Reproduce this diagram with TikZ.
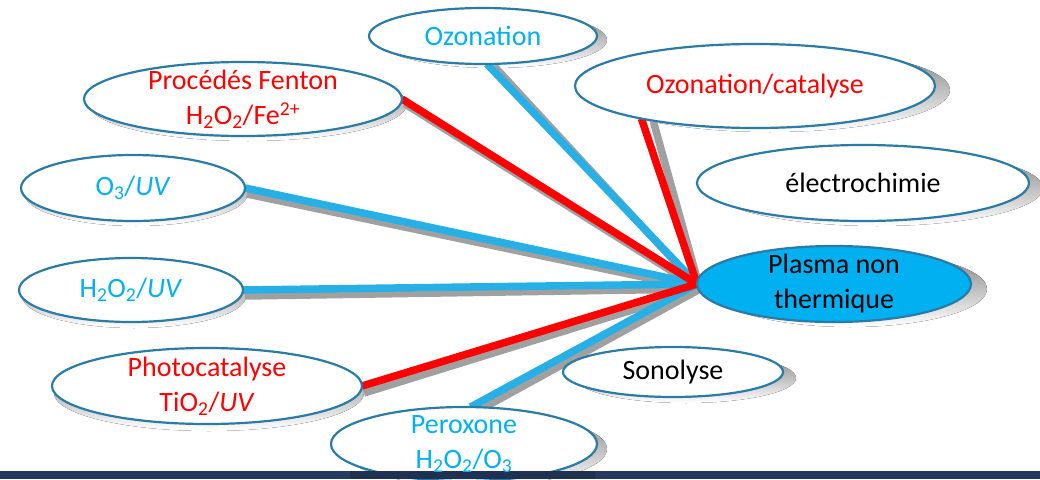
\documentclass[tikz,border=0pt]{standalone}
\usepackage{fontspec}
\setmainfont{Carlito}
\usetikzlibrary{shapes.geometric}

\definecolor{rimblue}{HTML}{2A7BA6}
\definecolor{lineblue}{HTML}{27B0E5}
\definecolor{textblue}{HTML}{00B0F0}
\definecolor{hubfill}{HTML}{00B0F0}
\definecolor{shade}{HTML}{A0A0A0}
\definecolor{barnavy}{HTML}{243A5E}
\definecolor{textred}{HTML}{FF0000}

\pgfdeclarelayer{shadows}
\pgfdeclarelayer{links}
\pgfdeclarelayer{labels}
\pgfsetlayers{shadows,links,main,labels}

\tikzset{
  bubble/.style={ellipse, draw=rimblue, line width=2.2pt, fill=white,
    inner sep=0pt, outer sep=0pt},
  btext/.style={inner sep=0pt, align=center, font=\fontsize{28}{35}\selectfont},
  link/.style={line width=7.5pt},
  linkshade/.style={line width=7.5pt, draw=shade},
}

% #1 name, #2 #3 centre, #4 #5 radii, #6 shadow shift, #7 extra style,
% #8 text colour, #9 text
\newcommand\bubble[9]{%
  \node[bubble, minimum width=2*#4pt, minimum height=2*#5pt, #7] (#1) at (#2,#3) {};
  \begin{pgfonlayer}{shadows}
    \fill[shade] ([shift={(#6)}]#1.center) ellipse [x radius=#4pt, y radius=#5pt];
  \end{pgfonlayer}
  \begin{pgfonlayer}{labels}
    \node[btext, text=#8] (#1-t) at (#1.center) {#9};
  \end{pgfonlayer}
}

\begin{document}
\begin{tikzpicture}[x=1pt, y=-1pt]
  \useasboundingbox (0,0) rectangle (1040,479);
  \begin{pgfonlayer}{shadows}
    \fill[white] (0,0) rectangle (1040,479);
  \end{pgfonlayer}

  % treatment processes around the plasma hub
  \bubble{ozo}{483}{36}{114}{28}{10,4}{}{textblue}{Ozonation}
  \bubble{fen}{243}{99}{159}{37}{5,5}{}{textred}{Procédés Fenton\\H\textsubscript{2}O\textsubscript{2}/Fe\textsuperscript{2+}}
  \bubble{othree}{133}{188}{112}{33}{3,5}{}{textblue}{O\textsubscript{3}/\textit{UV}}
  \bubble{hperox}{131}{290}{112}{32}{3,6}{}{textblue}{H\textsubscript{2}O\textsubscript{2}/\textit{UV}}
  \bubble{photo}{207}{386}{155}{38}{2,7}{}{textred}{Photocatalyse\\TiO\textsubscript{2}/\textit{UV}}
  \bubble{perox}{464}{444}{133}{37}{10,5}{}{textblue}{Peroxone\\H\textsubscript{2}O\textsubscript{2}/O\textsubscript{3}}
  \bubble{ozcat}{755}{86}{180}{42}{15,4}{}{textred}{Ozonation/catalyse}
  \bubble{electro}{863}{183}{166}{38}{14,5}{}{black}{électrochimie}
  \bubble{plasma}{834}{284}{137}{38}{16,5}{fill=hubfill}{black}{Plasma non\\thermique}
  \bubble{sono}{673}{372}{110}{25}{13,6}{}{black}{Sonolyse}

  % connectors with their shadows
  \begin{pgfonlayer}{links}
    \draw[linkshade] ([shift={(7,2)}]ozo.-82)    -- ([shift={(3,5)}]plasma.west);
    \draw[linkshade] ([shift={(3,5)}]fen.east)    -- ([shift={(3,5)}]plasma.west);
    \draw[linkshade] ([shift={(2,6)}]othree.east) -- ([shift={(3,5)}]plasma.west);
    \draw[linkshade] ([shift={(2,6)}]hperox.east) -- ([shift={(3,5)}]plasma.west);
    \draw[linkshade] ([shift={(2,7)}]photo.east)  -- ([shift={(3,5)}]plasma.west);
    \draw[linkshade] ([shift={(9,3)}]perox.80)    -- ([shift={(3,5)}]plasma.west);
    \draw[linkshade] ([shift={(12,3)}]ozcat.196)  -- ([shift={(3,5)}]plasma.west);

    \draw[link, lineblue] (ozo.-82)    -- (plasma.west);
    \draw[link, lineblue] (othree.east) -- (plasma.west);
    \draw[link, lineblue] (hperox.east) -- (plasma.west);
    \draw[link, lineblue] (perox.80)    -- (plasma.west);
    \draw[link, textred]  (fen.east)    -- (plasma.west);
    \draw[link, textred]  (photo.east)  -- (plasma.west);
    \draw[link, textred]  (ozcat.196)   -- (plasma.west);
  \end{pgfonlayer}

  % footer band, slightly darker below the Peroxone bubble
  \fill[barnavy] (0,471) rectangle (1040,479);
  \fill[barnavy!85!black] (350,471) rectangle (595,479);
\end{tikzpicture}
\end{document}
